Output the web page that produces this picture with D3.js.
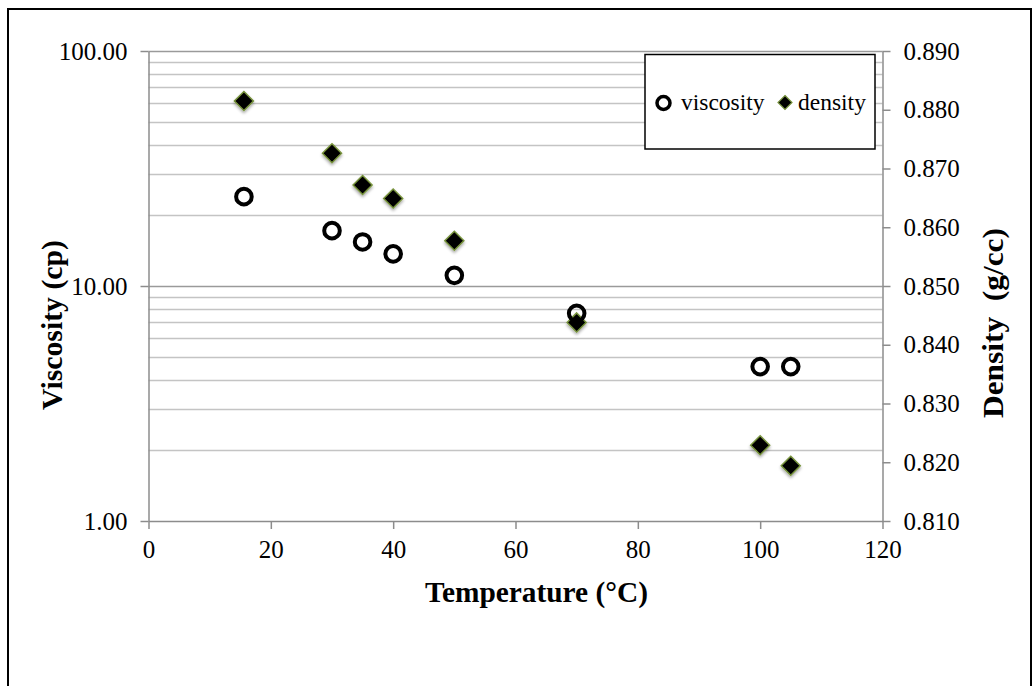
<!DOCTYPE html>
<html><head><meta charset="utf-8">
<script src="https://cdn.jsdelivr.net/npm/d3@7"></script>
<style>body{margin:0;background:#fff}svg{display:block}</style>
</head><body>
<svg id="c" width="1033" height="686" font-family="Liberation Serif"></svg>
<script>
const temperature = [15.6, 30, 35, 40, 50, 70, 100, 105];
const viscosity = [24.0, 17.2, 15.4, 13.7, 11.1, 7.65, 4.54, 4.54];
const density = [0.8815, 0.8726, 0.8672, 0.8649, 0.8577, 0.8438, 0.8229, 0.8194];
const xTicks = [0, 20, 40, 60, 80, 100, 120];
const yLeftTicks = [1, 10, 100];
const yRightTicks = [0.81, 0.82, 0.83, 0.84, 0.85, 0.86, 0.87, 0.88, 0.89];
const seriesNames = ["viscosity", "density"];
const FONT = "Liberation Serif";

const svg = d3.select("#c");
const L = 148.5, R = 882.5, T = 51, B = 521;
const x = d3.scaleLinear().domain([0, 120]).range([L, R]);
const yL = d3.scaleLog().domain([1, 100]).range([B, T]);
const yR = d3.scaleLinear().domain([0.81, 0.89]).range([B, T]);

// outer border
svg.append("rect").attr("x", 8).attr("y", 9).attr("width", 1023).attr("height", 700)
  .attr("fill", "none").attr("stroke", "#000").attr("stroke-width", 2);

const defs = svg.append("defs");
const f = defs.append("filter").attr("id", "sh").attr("x", "-50%").attr("y", "-50%").attr("width", "200%").attr("height", "200%");
f.append("feDropShadow").attr("dx", 0).attr("dy", 2).attr("stdDeviation", 1.5).attr("flood-color", "#000").attr("flood-opacity", 0.35);

// gridlines (log minor + major)
const grid = [];
for (let d = 1; d < 100; d *= 10) for (let k = 1; k < 10; k++) grid.push(d * k);
grid.push(100);
svg.append("g").selectAll("line").data(grid.filter(v => v > 1)).join("line")
  .attr("x1", L).attr("x2", R).attr("y1", d => Math.round(yL(d)) + 0.5).attr("y2", d => Math.round(yL(d)) + 0.5)
  .attr("stroke", d => (d === 10 || d === 100) ? "#9a9a9a" : "#c4c4c4").attr("stroke-width", 1.5);

// axes
const tickStyle = g => {
  g.attr("font-family", FONT).attr("font-size", 25);
  g.selectAll(".domain").attr("stroke", "#8c8c8c").attr("stroke-width", 1.5);
  g.selectAll(".tick line").attr("stroke", "#8c8c8c").attr("stroke-width", 1.5);
  g.selectAll("text").attr("fill", "#000").style("font-family", FONT).style("font-size", "25px");
};
svg.append("g").attr("transform", `translate(0,${B})`)
  .call(d3.axisBottom(x).tickValues(xTicks).tickSize(8).tickSizeOuter(0).tickPadding(11).tickFormat(d3.format("d")))
  .call(tickStyle);
svg.append("g").attr("transform", `translate(${L},0)`)
  .call(d3.axisLeft(yL).tickValues(yLeftTicks).tickSize(8).tickSizeOuter(0).tickPadding(13).tickFormat(d3.format(".2f")))
  .call(tickStyle);
svg.append("g").attr("transform", `translate(${R},0)`)
  .call(d3.axisRight(yR).tickValues(yRightTicks).tickSize(8).tickSizeOuter(0).tickPadding(13).tickFormat(d3.format(".3f")))
  .call(tickStyle);

// axis titles
const title = (sel) => sel.style("font-family", FONT).attr("font-weight", "bold").attr("font-size", 29)
  .attr("text-anchor", "middle").attr("lengthAdjust", "spacingAndGlyphs");
svg.append("text").attr("x", 536.5).attr("y", 602).call(title).attr("textLength", 223).text("Temperature (°C)");
svg.append("text").attr("transform", `translate(62,325) rotate(-90)`).call(title).attr("textLength", 170).text("Viscosity (cp)");
svg.append("text").attr("transform", `translate(1003,323) rotate(-90)`).call(title).attr("textLength", 190)
  .style("white-space", "pre").text("Density  (g/cc)");

const diamondPath = (s) => `M0,${-s}L${s},0L0,${s}L${-s},0Z`;

// density markers
svg.append("g").selectAll("path").data(temperature.map((t, i) => [t, density[i]])).join("path")
  .attr("d", diamondPath(9.5))
  .attr("transform", d => `translate(${x(d[0])},${yR(d[1])})`)
  .attr("fill", "#000").attr("stroke", "#77933c").attr("stroke-width", 1.5).attr("filter", "url(#sh)");

// viscosity markers
svg.append("g").selectAll("circle").data(temperature.map((t, i) => [t, viscosity[i]])).join("circle")
  .attr("cx", d => x(d[0])).attr("cy", d => yL(d[1])).attr("r", 7.8)
  .attr("fill", "none").attr("stroke", "#000").attr("stroke-width", 4);

// legend
const lg = svg.append("g");
lg.append("rect").attr("x", 645).attr("y", 54.5).attr("width", 230).attr("height", 94.5)
  .attr("fill", "#fff").attr("stroke", "#000").attr("stroke-width", 1.5);
lg.append("circle").attr("cx", 663.5).attr("cy", 103).attr("r", 6.5).attr("fill", "none").attr("stroke", "#000").attr("stroke-width", 3.5);
lg.append("text").attr("x", 681).attr("y", 110).style("font-family", FONT).attr("font-size", 23.5).text(seriesNames[0]);
lg.append("path").attr("d", diamondPath(7)).attr("transform", "translate(785,102.5)")
  .attr("fill", "#000").attr("stroke", "#77933c").attr("stroke-width", 1.2);
lg.append("text").attr("x", 798).attr("y", 110).style("font-family", FONT).attr("font-size", 23.5).text(seriesNames[1]);
</script>
</body></html>
